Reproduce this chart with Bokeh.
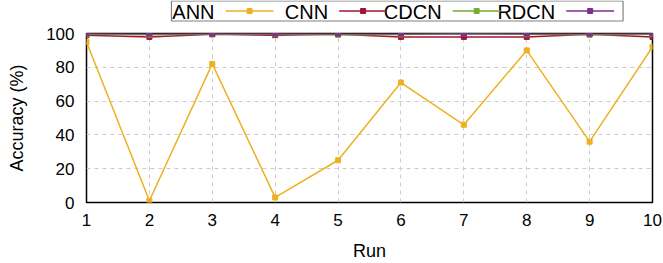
from bokeh.plotting import figure
from bokeh.models import FixedTicker, Range1d
from bokeh.layouts import column
from bokeh.core.properties import value
from bokeh.embed import file_html
from bokeh.resources import INLINE

runs = [1, 2, 3, 4, 5, 6, 7, 8, 9, 10]
ann = [95, 1, 82, 3, 25, 71, 46, 90, 36, 92]
cnn = [99, 98, 99.5, 99, 99.5, 98, 98, 98, 99.5, 98]
cdcn = [99.5, 99.3, 99.6, 99.5, 99.3, 99.4, 100, 99.5, 99.3, 99.5]
rdcn = [100, 99.9, 99.9, 99.9, 99.9, 99.9, 99.9, 99.9, 99.9, 100]
series_names = ["ANN", "CNN", "CDCN", "RDCN"]
colors = ["#EDB120", "#A2142F", "#77AC30", "#7E2F8E"]

FONT = "Liberation Sans"
W, H = 663, 263
KEY_H = 22

# ---------------- key strip (gnuplot style: label, then its sample) -------------
key = figure(width=W, height=KEY_H, output_backend="svg", toolbar_location=None,
             x_range=Range1d(0, W), y_range=Range1d(KEY_H, 0),
             x_axis_type=None, y_axis_type=None, min_border=0)
key.outline_line_color = None
key.background_fill_color = "white"
key.border_fill_color = "white"
key.quad(left=[99.5], right=[628.5], top=[0.5], bottom=[20.5],
         fill_color="white", line_color="#808080", line_width=1.2)
sample_start = [163 + 133 * i for i in range(len(series_names))]
sample_len = 56
key_y = 10.5
key.text(x=[s - 13 for s in sample_start], y=[key_y + 0.5] * len(series_names), text=series_names,
         text_font=value(FONT), text_font_size="20px", text_color="black",
         text_align="right", text_baseline="middle")
key.segment(x0=sample_start, y0=[key_y] * 4, x1=[s + sample_len for s in sample_start],
            y1=[key_y] * 4, line_color=colors, line_width=1.5)
key.scatter(x=[s + sample_len / 2 for s in sample_start], y=[key_y] * 4, marker="square",
            size=5, fill_color=colors, line_color=colors)

# ---------------- main plot ----------------
p = figure(width=W, height=H - KEY_H, output_backend="svg", toolbar_location=None,
           x_range=Range1d(1, 10), y_range=Range1d(0, 100),
           min_border_left=86, min_border_right=11, min_border_top=11, min_border_bottom=60)
p.outline_line_color = "black"
p.outline_line_width = 1.5
p.background_fill_color = "white"
p.border_fill_color = "white"

for data, c in zip([ann, cnn, cdcn, rdcn], colors):
    p.line(runs, data, line_color=c, line_width=1.5)
    p.scatter(runs, data, marker="square", size=5, fill_color=c, line_color=c)

p.xaxis.ticker = FixedTicker(ticks=runs)
p.yaxis.ticker = FixedTicker(ticks=[0, 20, 40, 60, 80, 100])
for ax in (p.xaxis, p.yaxis):
    ax.axis_line_color = None
    ax.major_tick_line_color = None
    ax.minor_tick_line_color = None
    ax.major_tick_out = 0
    ax.major_tick_in = 0
    ax.minor_tick_out = 0
    ax.minor_tick_in = 0
    ax.major_label_text_font = FONT
    ax.major_label_text_font_size = "17px"
    ax.major_label_text_color = "black"
    ax.axis_label_text_font = FONT
    ax.axis_label_text_font_size = "18px"
    ax.axis_label_text_font_style = "normal"
    ax.axis_label_text_color = "black"
p.xaxis.axis_label = "Run"
p.yaxis.axis_label = "Accuracy (%)"
p.xaxis.major_label_standoff = 11
p.yaxis.major_label_standoff = 12
p.xaxis.axis_label_standoff = 12
p.yaxis.axis_label_standoff = 16

p.grid.grid_line_color = "#cccccc"
p.grid.grid_line_dash = "4 4"
p.grid.grid_line_width = 1

layout = column(key, p, spacing=0)
open("out.html", "w").write(file_html(layout, INLINE))
